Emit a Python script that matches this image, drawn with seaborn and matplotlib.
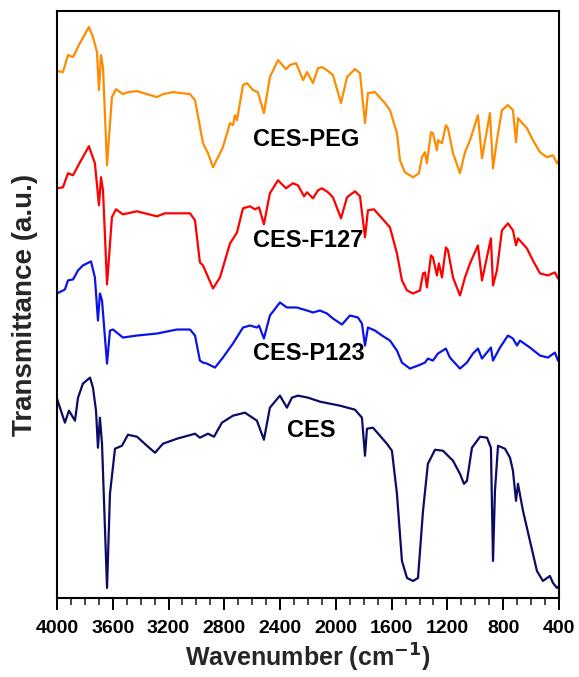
"""
FTIR spectra of CES and the polymer-modified CES samples
"""

import numpy as np
import pandas as pd
import matplotlib
matplotlib.use('Agg')
import matplotlib.pyplot as plt
from matplotlib.ticker import MultipleLocator
import seaborn as sns

# wavenumber (cm-1) and transmittance (a.u., stacked)
peg_wn = [4000, 3957, 3921, 3885, 3835, 3771, 3742, 3713, 3699, 3684, 3670, 3641, 3606, 3577,
          3527, 3491, 3426, 3355, 3283, 3240, 3168, 3046, 3010, 2953, 2917, 2881, 2845, 2810,
          2759, 2738, 2724, 2709, 2666, 2638, 2594, 2559, 2516, 2473, 2415, 2358, 2329, 2286,
          2235, 2207, 2164, 2128, 2100, 2064, 2021, 1963, 1920, 1863, 1827, 1791, 1770, 1720,
          1648, 1612, 1562, 1540, 1505, 1447, 1404, 1383, 1361, 1347, 1318, 1304, 1275, 1268,
          1239, 1211, 1196, 1160, 1110, 1074, 1038, 981, 952, 895, 873, 845, 809, 766, 730,
          708, 694, 630, 587, 536, 486, 443, 414, 400]
peg_t = [526, 525, 542, 540, 554, 570, 560, 545, 507, 542, 530, 432, 500, 508,
         503, 505, 506, 503, 500, 503, 505, 503, 497, 454, 444, 430, 440, 450,
         474, 472, 482, 477, 512, 514, 507, 505, 484, 520, 537, 528, 532, 534,
         517, 525, 514, 529, 530, 527, 522, 494, 520, 528, 524, 474, 504, 505,
         494, 487, 464, 437, 425, 420, 424, 440, 445, 434, 465, 464, 447, 457,
         454, 472, 469, 444, 424, 445, 457, 482, 439, 484, 429, 457, 487, 492, 487,
         455, 479, 469, 457, 445, 440, 442, 434, 437]

f127_wn = [4000, 3957, 3921, 3885, 3835, 3771, 3728, 3699, 3684, 3670, 3641, 3606, 3577, 3527,
           3426, 3283, 3226, 3046, 3010, 2975, 2953, 2881, 2831, 2759, 2731, 2709, 2666, 2616,
           2580, 2551, 2516, 2473, 2415, 2358, 2308, 2272, 2228, 2207, 2164, 2128, 2100, 2056,
           2021, 1963, 1920, 1863, 1827, 1791, 1770, 1727, 1669, 1612, 1562, 1526, 1490, 1447,
           1397, 1375, 1361, 1347, 1318, 1304, 1275, 1261, 1239, 1211, 1196, 1160, 1110, 1074,
           1038, 981, 952, 888, 873, 845, 809, 766, 730, 708, 694, 630, 587, 536, 479, 429,
           407, 400]
f127_t = [409, 410, 424, 422, 435, 451, 434, 392, 420, 407, 313, 380, 388, 383,
          386, 381, 384, 384, 377, 335, 332, 309, 320, 354, 360, 365, 389, 391,
          388, 390, 373, 404, 417, 409, 414, 412, 401, 405, 399, 407, 409, 405,
          400, 379, 400, 406, 401, 360, 387, 388, 379, 370, 344, 317, 307, 304,
          307, 324, 325, 310, 342, 340, 322, 334, 320, 350, 347, 320, 302, 320,
          334, 352, 317, 359, 312, 327, 367, 374, 367, 352, 359, 349, 337, 324, 322, 325,
          319, 320]

p123_wn = [4000, 3943, 3921, 3885, 3849, 3814, 3756, 3728, 3706, 3692, 3677, 3641, 3620, 3598,
           3527, 3426, 3283, 3140, 3046, 3010, 2975, 2953, 2924, 2867, 2810, 2738, 2666, 2616,
           2566, 2551, 2516, 2473, 2401, 2351, 2279, 2257, 2207, 2164, 2114, 2064, 2021, 1956,
           1899, 1842, 1813, 1791, 1770, 1720, 1669, 1612, 1562, 1526, 1469, 1411, 1361, 1340,
           1304, 1268, 1211, 1182, 1110, 1060, 1017, 981, 952, 888, 873, 823, 766, 730, 701,
           680, 608, 536, 479, 429, 407, 400]
p123_t = [304, 308, 317, 318, 327, 332, 336, 320, 277, 304, 297, 234, 267, 268,
          260, 262, 264, 268, 268, 262, 237, 235, 234, 230, 240, 254, 270, 272,
          270, 272, 259, 282, 295, 290, 290, 289, 287, 285, 287, 284, 279, 273,
          282, 280, 274, 252, 270, 267, 262, 257, 247, 235, 229, 232, 235, 239,
          237, 244, 249, 240, 229, 235, 244, 249, 239, 250, 237, 250, 262, 259, 252,
          257, 250, 242, 240, 245, 237, 240]

ces_wn = [4000, 3943, 3914, 3871, 3849, 3814, 3763, 3742, 3720, 3706, 3692, 3677, 3641, 3620,
          3584, 3534, 3491, 3426, 3355, 3297, 3240, 3140, 3010, 2975, 2917, 2874, 2817, 2738,
          2652, 2566, 2516, 2473, 2401, 2351, 2315, 2272, 2200, 2114, 1971, 1863, 1813, 1791,
          1777, 1734, 1684, 1634, 1598, 1562, 1526, 1490, 1447, 1411, 1375, 1340, 1289, 1232,
          1160, 1110, 1081, 1060, 1024, 966, 916, 888, 873, 859, 837, 787, 751, 730, 708,
          694, 658, 608, 558, 515, 465, 443, 414, 400]
ces_t = [199, 175, 187, 177, 200, 214, 220, 210, 187, 150, 180, 154, 10, 104,
         149, 152, 163, 161, 152, 145, 154, 159, 164, 160, 164, 161, 175, 182,
         185, 177, 158, 190, 202, 190, 200, 202, 200, 196, 192, 188, 180, 142,
         169, 170, 162, 154, 147, 104, 37, 20, 17, 20, 87, 134, 148, 147,
         137, 124, 114, 117, 150, 161, 160, 150, 37, 107, 152, 149, 140, 127, 97,
         114, 87, 57, 27, 17, 22, 15, 10, 12]

sample_names = ['CES-PEG', 'CES-F127', 'CES-P123', 'CES']
sample_colors = ['#ff8c00', '#ff0000', '#0a14e6', '#0c0c66']
label_wn = [2594, 2594, 2594, 2351]
label_t = [458, 357, 244, 167]


def build_frame():
    """Long-form table of all spectra"""
    frames = []
    for name, wn, t in zip(sample_names,
                           [peg_wn, f127_wn, p123_wn, ces_wn],
                           [peg_t, f127_t, p123_t, ces_t]):
        frames.append(pd.DataFrame({'wavenumber': wn, 'transmittance': t, 'sample': name}))
    return pd.concat(frames, ignore_index=True)


def plot_spectra(save_path):
    """Plot stacked FTIR spectra"""
    sns.set_style('white')
    plt.rcParams['font.family'] = ['Liberation Sans', 'DejaVu Sans']
    plt.rcParams['font.weight'] = 'bold'

    df = build_frame()

    fig = plt.figure(figsize=(5.79, 6.77), dpi=100)
    ax = fig.add_axes([0.0984, 0.1167, 0.8670, 0.8671])

    sns.lineplot(data=df, x='wavenumber', y='transmittance', hue='sample',
                 hue_order=sample_names, palette=sample_colors, sort=False,
                 estimator=None, linewidth=1.6, legend=False, ax=ax)

    for name, x, y in zip(sample_names, label_wn, label_t):
        ax.text(x, y, name, ha='left', va='center', fontsize=17, fontweight='bold', color='black')

    ax.set_xlim(4000, 400)
    ax.set_ylim(0, 586)
    ax.xaxis.set_major_locator(MultipleLocator(400))
    ax.xaxis.set_minor_locator(MultipleLocator(100))
    ax.set_yticks([])
    ax.tick_params(axis='x', which='major', direction='out', length=8.5, width=1.4,
                   labelsize=14, pad=7, bottom=True, top=False, colors='black')
    ax.tick_params(axis='x', which='minor', direction='out', length=5, width=1.2,
                   bottom=True, top=False)
    for lbl in ax.get_xticklabels():
        lbl.set_fontweight('bold')
    for spine in ax.spines.values():
        spine.set_visible(True)
        spine.set_linewidth(1.5)
        spine.set_color('black')

    ax.set_xlabel('Wavenumber (cm$^{\\mathregular{\\bf{-1}}}$)', fontsize=18, fontweight='bold', labelpad=4)
    ax.set_ylabel('Transmittance (a.u.)', fontsize=20, fontweight='bold', labelpad=14)

    fig.savefig(save_path, dpi=100)
    plt.close(fig)


if __name__ == "__main__":
    plot_spectra('out.png')
